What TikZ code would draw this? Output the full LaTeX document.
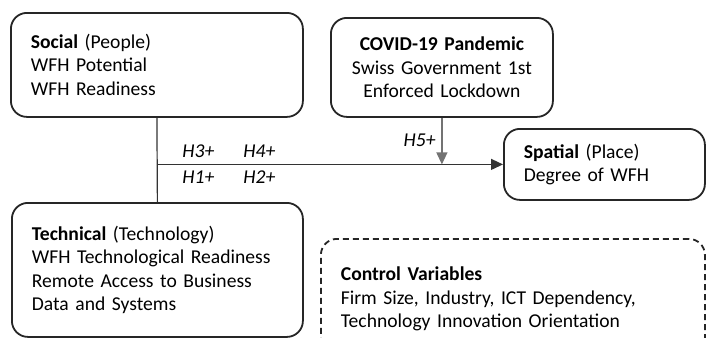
\documentclass[tikz,border=0pt]{standalone}
\usepackage{fontspec}
\setmainfont{Carlito}
\usetikzlibrary{arrows.meta}

\tikzset{
    box/.style={draw=black!85, line width=0.9pt, rounded corners=8pt, inner xsep=10pt, inner ysep=0pt,
        anchor=north west, align=left, font=\fontsize{9.8}{11.8}\selectfont},
    hyp/.style={font=\fontsize{9.8}{11.8}\selectfont\itshape, inner sep=0pt},
    conn/.style={draw=black!80, line width=0.6pt},
    tip/.style={-{Triangle[length=6pt,width=5.5pt]}}
}

\begin{document}
\begin{tikzpicture}[x=0.5pt,y=-0.5pt]
    \useasboundingbox (0,0) rectangle (706,337);
    % boxes
    \node[box, text width=126pt, minimum height=52pt] (social) at (10,12)
        {\textbf{Social} (People)\\WFH Potential\\WFH Readiness};
    \node[box, text width=125.5pt, minimum height=67pt] (tech) at (11,202)
        {\textbf{Technical} (Technology)\\WFH Technological Readiness\\Remote Access to Business\\Data and Systems};
    \node[box, text width=91pt, minimum height=49.5pt, align=center] (covid) at (330,17)
        {\textbf{COVID-19 Pandemic}\\Swiss Government 1st\\Enforced Lockdown};
    \node[box, text width=80.5pt, minimum height=35.5pt] (spatial) at (503,128)
        {\textbf{Spatial} (Place)\\Degree of WFH};
    \node[box, dash pattern=on 3pt off 2pt, text width=172pt, minimum height=60pt] (control) at (320,238)
        {\textbf{Control Variables}\\Firm Size, Industry, ICT Dependency,\\Technology Innovation Orientation};
    % connectors
    \coordinate (junction) at (social.south |- spatial.west);
    \draw[conn] (social.south) -- (tech.north);
    \draw[conn, tip] (junction) -- (spatial.west);
    \draw[conn, draw=black!55, tip] (covid.south) -- (covid.south |- spatial.west);
    % hypotheses
    \node[hyp, anchor=base west] (h3) at (182,157) {H3+};
    \node[hyp, anchor=base west] (h4) at (243,157) {H4+};
    \node[hyp, anchor=base west] (h1) at (182,183) {H1+};
    \node[hyp, anchor=base west] (h2) at (243,183) {H2+};
    \node[hyp, anchor=base east] (h5) at (436,146) {H5+};
\end{tikzpicture}
\end{document}
